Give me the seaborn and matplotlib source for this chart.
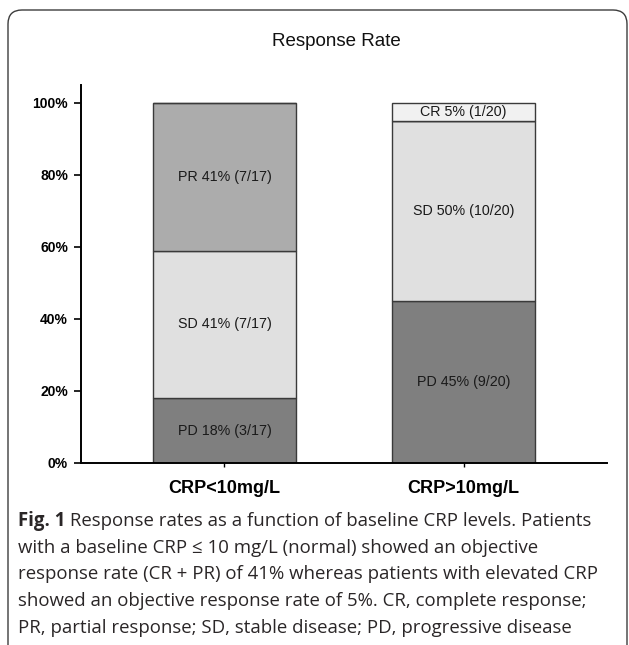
import matplotlib
matplotlib.use("Agg")
import matplotlib.pyplot as plt
import seaborn as sns
import numpy as np
from matplotlib.patches import FancyBboxPatch
from matplotlib.ticker import PercentFormatter

groups = ["CRP<10mg/L", "CRP>10mg/L"]
pd_vals = [18, 45]
sd_vals = [41, 50]
pr_vals = [41, 0]
cr_vals = [0, 5]
pd_labels = ["PD 18% (3/17)", "PD 45% (9/20)"]
sd_labels = ["SD 41% (7/17)", "SD 50% (10/20)"]
pr_labels = ["PR 41% (7/17)", ""]
cr_labels = ["", "CR 5% (1/20)"]
yticks = [0, 20, 40, 60, 80, 100]

sns.set_theme(style="white")
plt.rcParams["font.family"] = ["Liberation Sans", "DejaVu Sans"]

W, H, DPI = 629, 645, 100
fig = plt.figure(figsize=(W / DPI, H / DPI), dpi=DPI)
ax = fig.add_axes([81 / W, 1 - 463 / H, (607 - 81) / W, (463 - 85) / H])

segments = [
    (pd_vals, pd_labels, "#7f7f7f"),
    (sd_vals, sd_labels, "#e0e0e0"),
    (pr_vals, pr_labels, "#acacac"),
    (cr_vals, cr_labels, "#f1f1f1"),
]
bottom = np.zeros(len(groups))
for vals, labels, col in segments:
    sns.barplot(x=groups, y=vals, bottom=bottom, color=col, saturation=1,
                edgecolor="#3a3a3a", linewidth=1.0, width=0.6, ax=ax)
    cont = ax.containers[-1]
    ax.bar_label(cont, labels=labels, label_type="center", fontsize=10.3,
                 color="#1a1a1a")
    bottom = bottom + np.array(vals)

ax.set_xlim(-0.6, 1.6)
ax.set_ylim(0, 105)
ax.set_yticks(yticks)
ax.yaxis.set_major_formatter(PercentFormatter(decimals=0))
for s in ["top", "right"]:
    ax.spines[s].set_visible(False)
for s in ["left", "bottom"]:
    ax.spines[s].set_color("black")
    ax.spines[s].set_linewidth(1.4)
ax.tick_params(axis="y", which="major", direction="out", length=4.8, width=1.2,
               color="black", left=True, pad=4.5, labelsize=10)
ax.tick_params(axis="x", which="major", direction="out", length=3, width=1.0,
               color="black", bottom=True, pad=9.5, labelsize=13)
for lab in ax.get_yticklabels() + ax.get_xticklabels():
    lab.set_fontweight("bold")
    lab.set_color("black")
ax.set_xlabel("")
ax.set_ylabel("")

fig.text(336 / W, 1 - 41 / H, "Response Rate", ha="center", va="center",
         fontsize=13.5, color="#111111")

# frame
frame = FancyBboxPatch((8 / DPI, (H - 670) / DPI), (627 - 8) / DPI, (670 - 10) / DPI,
                       boxstyle="round,pad=0,rounding_size=0.14",
                       transform=fig.dpi_scale_trans, fill=False,
                       edgecolor="#3c3c3c", linewidth=1.0, clip_on=False)
fig.patches.append(frame)

# caption
cap_font = ["Open Sans", "DejaVu Sans"]
cap_size = 13.4
cap_color = "#2a2627"
lines = [
    " Response rates as a function of baseline CRP levels. Patients",
    "with a baseline CRP \u2264 10 mg/L (normal) showed an objective",
    "response rate (CR + PR) of 41% whereas patients with elevated CRP",
    "showed an objective response rate of 5%. CR, complete response;",
    "PR, partial response; SD, stable disease; PD, progressive disease",
]
y0 = 521
dy = 26.7
x0 = 18
t = fig.text(x0 / W, 1 - y0 / H, "Fig. 1", ha="left", va="center",
             fontsize=cap_size, fontweight="bold", family=cap_font, color=cap_color)
fig.canvas.draw()
bb = t.get_window_extent(renderer=fig.canvas.get_renderer())
fig.text(bb.x1 / W, 1 - y0 / H, lines[0], ha="left", va="center",
         fontsize=cap_size, family=cap_font, color=cap_color)
for i, ln in enumerate(lines[1:], start=1):
    fig.text(x0 / W, 1 - (y0 + i * dy) / H, ln, ha="left", va="center",
             fontsize=cap_size, family=cap_font, color=cap_color)

fig.savefig("out.png", dpi=DPI)
